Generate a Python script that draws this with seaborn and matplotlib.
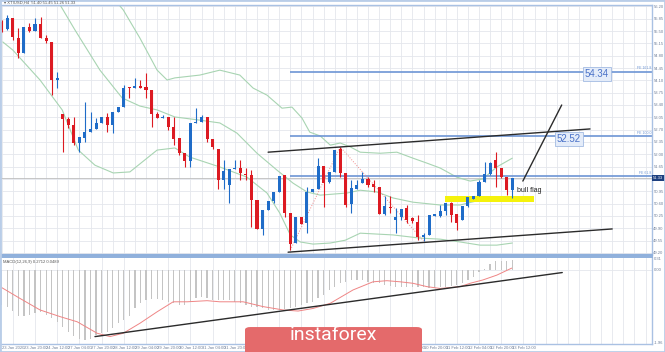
import numpy as np
import pandas as pd
import matplotlib
matplotlib.use("Agg")
import matplotlib.pyplot as plt
from matplotlib.patches import FancyBboxPatch, Rectangle
import seaborn as sns

# ---- H4 candles (oldest first) ----
opens = [55.76, 55.56, 55.87, 55.30, 54.87, 55.61, 55.50, 55.70, 55.30, 55.19,
         54.11, 53.14, 53.00, 52.83, 52.32, 52.46, 52.63, 52.72, 52.89, 53.06,
         52.83, 53.20, 53.34, 53.91, 53.88, 53.94, 53.91, 53.82, 53.14, 53.03,
         53.06, 52.77, 52.46, 52.03, 51.81, 52.89, 52.92, 53.06, 52.43, 52.15,
         51.27, 51.13, 51.58, 51.61, 51.44, 51.41, 50.70, 49.88, 50.42, 50.67,
         50.93, 51.41, 50.33, 49.48, 50.22, 50.05, 50.93, 51.01, 51.67, 51.21,
         51.50, 52.15, 51.47, 50.59, 51.01, 51.18, 51.30, 51.16, 51.07, 50.30,
         50.50, 50.13, 50.22, 50.47, 50.19, 50.08, 49.65, 49.71, 50.25, 50.25,
         50.39, 50.61, 50.30, 50.13, 50.53, 50.73, 50.81, 51.21, 51.44, 51.84,
         51.61, 51.35, 50.98]
highs = [55.81, 55.95, 55.87, 55.58, 55.61, 55.73, 55.87, 55.90, 55.39, 55.19,
         54.34, 53.14, 53.06, 53.06, 52.49, 53.48, 53.20, 53.03, 53.06, 53.17,
         53.20, 53.34, 53.97, 53.91, 54.17, 54.11, 54.31, 53.82, 53.20, 53.11,
         53.06, 53.06, 52.46, 52.03, 52.89, 53.31, 53.11, 53.06, 52.43, 52.15,
         51.84, 51.58, 51.84, 51.84, 51.61, 51.55, 50.70, 50.42, 50.67, 50.93,
         51.38, 51.41, 50.33, 50.22, 50.22, 51.07, 51.01, 51.89, 51.67, 51.50,
         52.12, 52.21, 51.47, 51.27, 51.27, 51.50, 51.35, 51.27, 51.07, 50.81,
         50.81, 50.47, 50.44, 50.56, 50.22, 50.27, 49.76, 50.27, 50.30, 50.56,
         50.61, 50.64, 50.30, 50.53, 50.79, 50.81, 51.27, 51.78, 51.78, 52.06,
         51.61, 51.35, 51.33]
lows = [55.47, 55.53, 55.24, 54.73, 54.87, 55.47, 55.50, 55.30, 55.16, 53.68,
        53.88, 52.06, 52.75, 52.26, 52.06, 52.35, 52.63, 52.72, 52.89, 52.63,
        52.60, 53.20, 53.34, 53.60, 53.88, 53.88, 53.60, 52.77, 53.03, 53.03,
        52.69, 52.26, 51.98, 51.64, 51.64, 52.89, 52.92, 52.35, 52.15, 51.01,
        51.01, 50.61, 51.58, 51.27, 51.27, 49.93, 49.88, 49.71, 50.42, 50.61,
        50.93, 50.22, 49.28, 49.48, 50.02, 49.76, 50.93, 51.01, 50.50, 51.18,
        51.50, 51.35, 50.50, 50.33, 51.01, 51.18, 51.07, 50.93, 50.30, 50.27,
        50.33, 49.76, 50.13, 50.05, 50.05, 49.56, 49.54, 49.71, 50.25, 50.22,
        50.27, 50.08, 49.85, 50.13, 50.50, 50.73, 50.81, 51.21, 51.41, 51.07,
        51.33, 50.84, 50.76]
closes = [55.53, 55.87, 55.33, 54.87, 55.61, 55.50, 55.70, 55.30, 55.22, 54.11,
          54.17, 53.00, 52.83, 52.32, 52.49, 52.63, 52.72, 52.89, 53.06, 52.83,
          53.20, 53.34, 53.88, 53.88, 53.94, 53.88, 53.82, 53.14, 53.03, 53.06,
          52.77, 52.43, 52.03, 51.81, 52.89, 52.92, 53.06, 52.43, 52.21, 51.27,
          51.52, 51.58, 51.61, 51.47, 51.41, 50.70, 49.88, 50.42, 50.67, 50.93,
          51.38, 50.33, 49.45, 50.22, 50.02, 50.93, 51.01, 51.67, 51.18, 51.50,
          52.12, 51.47, 50.56, 51.04, 51.13, 51.30, 51.13, 51.07, 50.30, 50.53,
          50.47, 50.22, 50.44, 50.13, 50.10, 49.65, 49.71, 50.27, 50.30, 50.39,
          50.61, 50.27, 50.05, 50.53, 50.79, 50.81, 51.21, 51.44, 51.75, 51.61,
          51.35, 50.98, 51.33]

# Bollinger bands (bar position, price)
upper_x = [19.2, 20.4, 21.9, 24.9, 28.0, 29.8, 31.2, 35.7, 39.3, 42.9, 45.3, 47.8,
           50.5, 52.3, 54.1, 55.5, 57.4, 59.2, 61.0, 62.8, 64.6, 68.2, 71.2, 74.1,
           76.6, 79.0, 82.0, 84.4, 86.7, 89.2, 92.0]
upper_y = [56.66, 56.38, 56.10, 55.30, 54.39, 54.11, 54.17, 54.25, 54.39, 54.25,
           53.88, 53.68, 53.31, 53.34, 53.03, 52.63, 52.52, 52.26, 52.32, 52.21,
           52.06, 52.03, 52.06, 51.89, 51.75, 51.61, 51.35, 51.24, 51.30, 51.64, 51.89]
middle_x = [8.7, 10.0, 13.2, 17.7, 21.7, 24.9, 28.0, 31.2, 35.7, 39.3, 42.4, 46.0,
            49.6, 52.5, 55.0, 57.4, 62.2, 64.6, 67.6, 70.5, 74.1, 79.0, 82.6, 86.2,
            89.8, 92.0]
middle_y = [56.52, 56.38, 55.53, 54.39, 53.60, 53.37, 53.26, 53.06, 52.97, 52.89,
            52.60, 52.03, 51.55, 51.18, 50.93, 50.84, 50.90, 50.98, 50.93, 50.76,
            50.64, 50.56, 50.56, 50.70, 50.76, 50.79]
lower_x = [0.2, 2.0, 6.9, 10.9, 13.8, 16.8, 20.1, 23.1, 28.0, 31.2, 33.9, 39.3,
           44.2, 47.8, 50.1, 52.0, 53.8, 56.1, 59.2, 61.9, 64.6, 70.5, 75.4, 79.0,
           82.6, 86.2, 89.2, 92.0]
lower_y = [55.19, 54.96, 54.11, 53.26, 52.12, 51.69, 51.47, 51.50, 52.12, 52.18,
           51.92, 51.64, 51.35, 50.90, 50.33, 49.71, 49.51, 49.45, 49.48, 49.56,
           49.76, 49.71, 49.62, 49.59, 49.51, 49.42, 49.42, 49.48]

# zigzag swing points
zigzag_x = [52, 61, 76]
zigzag_y = [49.28, 52.21, 49.54]

# Fibonacci expansion levels
fib_levels = [54.34, 52.52, 51.38]
fib_names = ["FE 161.8", "FE 100.0", "FE 61.8"]
fib_start = 52

# drawn trendlines (bar position, price)
channel_top_x, channel_top_y = [48.0, 106.0], [52.06, 52.72]
channel_bot_x, channel_bot_y = [51.6, 110.0], [49.22, 49.88]
target_x, target_y = [93.9, 100.9], [51.24, 53.40]
flag_x, flag_lo, flag_hi = [79.9, 95.9], [50.64, 50.64], [50.81, 50.81]

# MACD histogram and signal
macd_hist = [-0.95, -0.99, -1.10, -1.24, -1.24, -1.22, -1.17, -1.13, -1.22, -1.31,
             -1.40, -1.53, -1.67, -1.78, -1.86, -1.89, -1.86, -1.76, -1.71, -1.67,
             -1.58, -1.44, -1.35, -1.24, -1.04, -0.90, -0.81, -0.79, -0.79, -0.81,
             -0.86, -0.90, -0.96, -0.95, -0.86, -0.77, -0.72, -0.77, -0.81, -0.81,
             -0.81, -0.81, -0.86, -0.90, -0.95, -0.99, -0.99, -1.04, -1.08, -1.08,
             -1.08, -1.06, -1.04, -0.99, -0.95, -0.90, -0.86, -0.77, -0.68, -0.54,
             -0.45, -0.36, -0.32, -0.27, -0.27, -0.27, -0.32, -0.34, -0.36, -0.41,
             -0.43, -0.45, -0.45, -0.45, -0.45, -0.45, -0.45, -0.50, -0.50, -0.45,
             -0.45, -0.43, -0.41, -0.36, -0.27, -0.18, -0.05, 0.03, 0.16, 0.23,
             0.25, 0.23, 0.27]
signal_x = [-0.3, 3.3, 6.9, 10.5, 13.6, 17.2, 19.5, 21.9, 24.9, 28.0, 30.9, 33.4,
            37.0, 39.3, 43.5, 47.1, 50.7, 53.4, 56.1, 59.2, 63.3, 66.9, 69.4, 71.8,
            74.1, 76.6, 79.0, 82.6, 84.4, 86.7, 89.2, 91.9]
signal_y = [-0.45, -0.77, -1.08, -1.26, -1.40, -1.71, -1.80, -1.71, -1.44, -1.13,
            -0.86, -0.86, -0.83, -0.86, -0.86, -0.99, -1.08, -1.11, -1.04, -0.90,
            -0.54, -0.32, -0.29, -0.32, -0.36, -0.45, -0.50, -0.45, -0.36, -0.27,
            -0.14, 0.05]
macd_trend_x, macd_trend_y = [16.8, 101.0], [-1.80, -0.07]

# axis labels
price_ticks = [49.20, 49.55, 49.90, 50.25, 50.60, 50.95, 51.30, 51.65, 52.00, 52.35,
               52.70, 53.05, 53.40, 53.75, 54.10, 54.45, 54.80, 55.15, 55.50, 55.85, 56.20]
macd_ticks = [0.31, 0.0, -1.96]
date_pos = list(range(0, 93, 4))
date_labels = ["23 Jan 2020", "23 Jan 20:00", "24 Jan 12:00", "27 Jan 04:00",
               "27 Jan 20:00", "28 Jan 12:00", "29 Jan 04:00", "29 Jan 20:00",
               "30 Jan 12:00", "31 Jan 04:00", "31 Jan 20:00", "3 Feb 12:00",
               "4 Feb 04:00", "4 Feb 20:00", "5 Feb 12:00", "6 Feb 04:00",
               "6 Feb 20:00", "7 Feb 12:00", "10 Feb 04:00", "10 Feb 20:00",
               "11 Feb 12:00", "12 Feb 04:00", "12 Feb 20:00", "13 Feb 12:00"]

BLUE = "#1f6cc8"
RED = "#dc1a22"
BAND = "#a8d4b2"
FIB = "#6d95d4"
FRAME = "#a9c1e3"
TICK = "#6f7f99"

sns.set_style("white")
plt.rcParams["font.family"] = ["Liberation Sans", "DejaVu Sans"]

fig = plt.figure(figsize=(6.65, 3.52), dpi=100)
ax = fig.add_axes([0, 97 / 352, 652 / 665, 250 / 352])
ax2 = fig.add_axes([0, 8 / 352, 652 / 665, 87 / 352])

xlim = (-0.31, 117.17)
o, h, l, c = map(np.array, (opens, highs, lows, closes))
idx = np.arange(len(c))
col = np.where(c >= o, BLUE, RED)

# grid
for a in (ax, ax2):
    a.set_xlim(*xlim)
    a.set_xticks(np.arange(0, 118, 2), minor=True)
    a.grid(which="minor", axis="x", color="#e4e7ec", lw=0.6)
    a.tick_params(which="minor", length=0)
    for s in a.spines.values():
        s.set_color(FRAME)
        s.set_linewidth(1.0)
ax.set_ylim(49.14, 56.24)
ax.set_yticks(price_ticks)
ax.grid(which="major", axis="y", color="#e4e7ec", lw=0.6)
ax.set_xticks([])
ax.spines["bottom"].set_color("#8fb0dc")
ax.spines["bottom"].set_linewidth(1.6)
ax.yaxis.tick_right()
ax.tick_params(axis="y", labelsize=3, colors=TICK, length=0, pad=1)
ax.set_yticklabels([f"{t:.2f}" for t in price_ticks])

# bollinger bands
for bx, by in [(upper_x, upper_y), (middle_x, middle_y), (lower_x, lower_y)]:
    sns.lineplot(x=bx, y=by, ax=ax, color=BAND, lw=0.8)

# current price and fib levels
ax.axhline(c[-1], color="#bdbdbd", lw=0.6, zorder=1)
ax.hlines(fib_levels, fib_start, xlim[1], color=FIB, lw=1.2, zorder=2)
for lev, name in zip(fib_levels, fib_names):
    ax.text(117.0, lev + 0.04, name, fontsize=2.5, color=FIB, ha="right", va="bottom")

sns.lineplot(x=zigzag_x, y=zigzag_y, ax=ax, color="#f08a8a", lw=0.7, linestyle=":")

# candles
ax.vlines(idx, l, h, colors=col, lw=0.8, zorder=3)
ax.bar(idx, np.maximum(np.abs(c - o), 0.025), bottom=np.minimum(o, c), width=0.55,
       color=col, linewidth=0, zorder=4)

# trendlines and flag
ax.fill_between(flag_x, flag_lo, flag_hi, color="#f5f20c", lw=0, zorder=2)
for tx, ty in [(channel_top_x, channel_top_y), (channel_bot_x, channel_bot_y), (target_x, target_y)]:
    ax.plot(tx, ty, color="#2b2b2b", lw=1.0, zorder=5)

box = dict(boxstyle="square,pad=0.2", fc="#e4ecf9", ec="#a3bbe3", lw=0.6)
ax.text(107.2, 54.28, "54.34", fontsize=7, color="#4a72c8", ha="center", va="center", bbox=box, zorder=6)
ax.text(102.2, 52.43, "52.52", fontsize=7, color="#4a72c8", ha="center", va="center", bbox=box, zorder=6)
ax.text(92.8, 50.98, "bull flag", fontsize=5, color="#222222", ha="left", va="center", zorder=6)

ax.text(1.002, c[-1], f"{c[-1]:.2f}", transform=ax.get_yaxis_transform(), fontsize=3,
        color="white", ha="left", va="center",
        bbox=dict(boxstyle="square,pad=0.3", fc="#1d3f7f", ec="none"))

# MACD panel
ax2.set_ylim(-2.0, 0.35)
ax2.bar(idx, macd_hist, width=0.22, color="#c4c4c4", linewidth=0)
sns.lineplot(x=signal_x, y=signal_y, ax=ax2, color="#ef8585", lw=0.7)
ax2.plot(macd_trend_x, macd_trend_y, color="#2b2b2b", lw=1.0)
ax2.axhline(0, color="#e4e7ec", lw=0.6, zorder=0)
ax2.yaxis.tick_right()
ax2.set_yticks(macd_ticks)
ax2.set_yticklabels([f"{t:.2f}" for t in macd_ticks])
ax2.tick_params(axis="y", labelsize=3, colors=TICK, length=0, pad=1)
ax2.set_xticks(date_pos)
ax2.set_xticklabels(date_labels, ha="left")
ax2.tick_params(axis="x", labelsize=3, colors=TICK, length=0, pad=1.5)
ax2.spines["top"].set_color("#8fb0dc")
ax2.spines["top"].set_linewidth(1.4)
ax2.text(0.005, 0.97, "MACD(12,26,9) 0.2712 0.0489", transform=ax2.transAxes,
         fontsize=3, color="#555555", ha="left", va="top")

fig.text(4 / 665, 1 - 3 / 352, "\u25be XTIUSD,H4  51.40 51.45 51.26 51.33", fontsize=3,
         color="#555555", ha="left", va="center")

# frame and watermark
fig.patches.append(Rectangle((0, 0), 1, 1, transform=fig.transFigure, fill=False,
                             ec="#b9cde8", lw=2))
fig.patches.append(FancyBboxPatch((245 / 665, -0.02), 177 / 665, 32 / 352,
                                  boxstyle="round,pad=0,rounding_size=0.008",
                                  transform=fig.transFigure, fc="#e46a6b", ec="none", zorder=10))
fig.text(333 / 665, 17 / 352, "instaforex", color="white", fontsize=14, ha="center",
         va="center", family=["Roboto", "DejaVu Sans"], zorder=11)

fig.savefig("out.png", dpi=100)
